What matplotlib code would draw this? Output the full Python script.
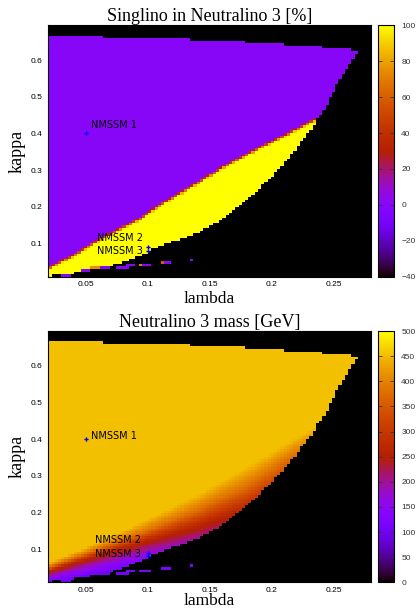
import numpy as np
import matplotlib.pyplot as plt

# upper edge of the scanned region (steps in kappa)
top_lam = [0.020, 0.065, 0.135, 0.178, 0.211, 0.240, 0.265, 0.270]
top_kap = [0.668, 0.661, 0.654, 0.647, 0.640, 0.633, 0.626]

# lower-right edge of the allowed region
bnd_lam = [0.020, 0.027, 0.041, 0.054, 0.067, 0.081, 0.094, 0.107, 0.120, 0.134,
           0.147, 0.160, 0.174, 0.187, 0.197, 0.207, 0.216, 0.224, 0.232, 0.237,
           0.243, 0.248, 0.253, 0.259, 0.265, 0.270]
bnd_kap = [0.011, 0.014, 0.020, 0.027, 0.036, 0.050, 0.068, 0.086, 0.104, 0.120,
           0.141, 0.164, 0.200, 0.236, 0.273, 0.305, 0.341, 0.377, 0.409, 0.441,
           0.464, 0.500, 0.536, 0.564, 0.600, 0.625]

# singlino / non-singlino border (purple above, yellow below)
trans_lam = [0.020, 0.040, 0.067, 0.094, 0.110, 0.136, 0.163, 0.189, 0.216, 0.240, 0.280]
trans_kap = [0.038, 0.072, 0.127, 0.173, 0.210, 0.262, 0.318, 0.364, 0.409, 0.452, 0.520]

# iso-mass lines of neutralino 3 (kappa at given lambda)
mass_lam = [0.02, 0.06, 0.10, 0.14, 0.18, 0.22, 0.26, 0.28]
mass_levels = [100, 150, 270, 380, 455]
mass_k100 = [0.008, 0.030, 0.055, 0.075, 0.100, 0.130, 0.160, 0.180]
mass_k150 = [0.020, 0.050, 0.080, 0.105, 0.140, 0.180, 0.220, 0.240]
mass_k270 = [0.040, 0.083, 0.125, 0.165, 0.215, 0.280, 0.340, 0.370]
mass_k380 = [0.050, 0.100, 0.150, 0.205, 0.270, 0.360, 0.430, 0.460]
mass_k455 = [0.062, 0.118, 0.182, 0.248, 0.325, 0.405, 0.480, 0.510]

# isolated points below the edge
isl_lam_lo = [0.082, 0.092, 0.095, 0.111, 0.114, 0.135]
isl_lam_hi = [0.090, 0.095, 0.102, 0.114, 0.119, 0.138]
isl_kap = [0.040, 0.043, 0.043, 0.050, 0.050, 0.057]
isl_singlino = [0, 70, 0, 60, 0, 0]
isl_mass = [110, 110, 110, 110, 110, 120]

# cells on the lower edge with low singlino content
edge_lam_lo = [0.031, 0.046, 0.055, 0.061, 0.075]
edge_lam_hi = [0.038, 0.054, 0.061, 0.070, 0.086]
edge_kap = [0.014, 0.024, 0.032, 0.032, 0.037]
edge_singlino = [0, 0, 75, 0, 0]

# benchmark points
bench_names = ["NMSSM 1", "NMSSM 2", "NMSSM 3"]
bench_lam = [0.05, 0.1, 0.1]
bench_kap = [0.40, 0.09, 0.08]

# grid
nx, ny = 100, 98
lam_e = np.linspace(0.02, 0.28, nx + 1)
kap_e = np.linspace(0.009, 0.695, ny + 1)
lam_c = 0.5 * (lam_e[1:] + lam_e[:-1])
kap_c = 0.5 * (kap_e[1:] + kap_e[:-1])
K = np.repeat(kap_c[:, None], nx, axis=1)

idx = np.searchsorted(top_lam, lam_c, side='right') - 1
ktop = np.array([top_kap[i] if 0 <= i < len(top_kap) else -1 for i in idx])
kbot = np.interp(lam_c, bnd_lam, bnd_kap)
inside = (K <= ktop[None, :]) & (K >= kbot[None, :]) & (lam_c[None, :] <= 0.2705)

# singlino share
kt = np.interp(lam_c, trans_lam, trans_kap)
singlino = np.clip((kt[None, :] - K) / 0.011, 0, 1) * 100

# mass
iso = np.array([np.interp(lam_c, mass_lam, k) for k in
                [mass_k100, mass_k150, mass_k270, mass_k380, mass_k455]])
mass = np.zeros_like(K)
for j in range(nx):
    mass[:, j] = np.interp(kap_c, iso[:, j], mass_levels)

for lo, hi, k, v in zip(edge_lam_lo, edge_lam_hi, edge_kap, edge_singlino):
    r = np.argmin(abs(kap_c - k))
    cols = (lam_c >= lo) & (lam_c <= hi)
    singlino[r, cols] = v
    inside[r, cols] = True

for lo, hi, k, s, m in zip(isl_lam_lo, isl_lam_hi, isl_kap, isl_singlino, isl_mass):
    r = np.argmin(abs(kap_c - k))
    cols = (lam_c >= lo) & (lam_c <= hi)
    singlino[r, cols] = s
    mass[r, cols] = m
    inside[r, cols] = True

W, H = 417, 609
AH = 251.4
fig = plt.figure(figsize=(W / 100, H / 100), dpi=100)
serif = 'Liberation Serif'
sans = 'Liberation Sans'

panels = [
    (singlino, -40, 100, list(range(-40, 101, 20)), "Singlino in Neutralino 3 [%]", 25.3, 303.0,
     [(0.0545, 0.423, 'left'), (0.0965, 0.115, 'right'), (0.0965, 0.079, 'right')]),
    (mass, 0, 500, list(range(0, 501, 50)), "Neutralino 3 mass [GeV]", 331, 605.0,
     [(0.0545, 0.409, 'left'), (0.0945, 0.124, 'right'), (0.0945, 0.086, 'right')]),
]

for vals, vmin, vmax, cticks, title, top_px, xlab_px, labpos in panels:
    ax = fig.add_axes([48.3 / W, 1 - (top_px + AH) / H, 322.4 / W, AH / H])
    ax.set_facecolor('black')
    data = np.ma.masked_where(~inside, vals)
    mesh = ax.pcolormesh(lam_e, kap_e, data, cmap='gnuplot', vmin=vmin, vmax=vmax)
    ax.set_xlim(0.02, 0.28)
    ax.set_ylim(0.009, 0.695)
    ax.set_xticks([0.05, 0.1, 0.15, 0.2, 0.25])
    ax.set_xticklabels(['0.05', '0.1', '0.15', '0.2', '0.25'], family=sans, fontsize=6)
    ax.set_yticks([0.1, 0.2, 0.3, 0.4, 0.5, 0.6])
    ax.set_yticklabels(['0.1', '0.2', '0.3', '0.4', '0.5', '0.6'], family=sans, fontsize=6)
    ax.tick_params(axis='y', length=0, pad=4)
    ax.tick_params(axis='x', length=0, pad=3)
    ax.set_title(title, family=serif, fontsize=13, pad=3)
    ax.set_xlabel("lambda", family=serif, fontsize=12.5, va='baseline')
    ax.xaxis.set_label_coords(0.5, -(xlab_px - (top_px + AH)) / AH)
    ax.set_ylabel("kappa", family=serif, fontsize=13, labelpad=4)

    ax.plot(bench_lam, bench_kap, 'P', color='blue', markersize=3, markeredgewidth=0)
    for name, (x, y, ha) in zip(bench_names, labpos):
        ax.text(x, y, name, ha=ha, va='center', fontsize=7, color='black')

    cax = fig.add_axes([378.3 / W, 1 - (top_px + AH) / H, 16 / W, AH / H])
    cb = fig.colorbar(mesh, cax=cax, ticks=cticks)
    cb.outline.set_linewidth(0.8)
    cax.tick_params(direction='in', length=3, width=0.6, left=True, right=True,
                    labelsize=6, pad=5, colors='#333333')
    for t in cax.get_yticklabels():
        t.set_family(sans)

fig.savefig('out.png', dpi=100)
